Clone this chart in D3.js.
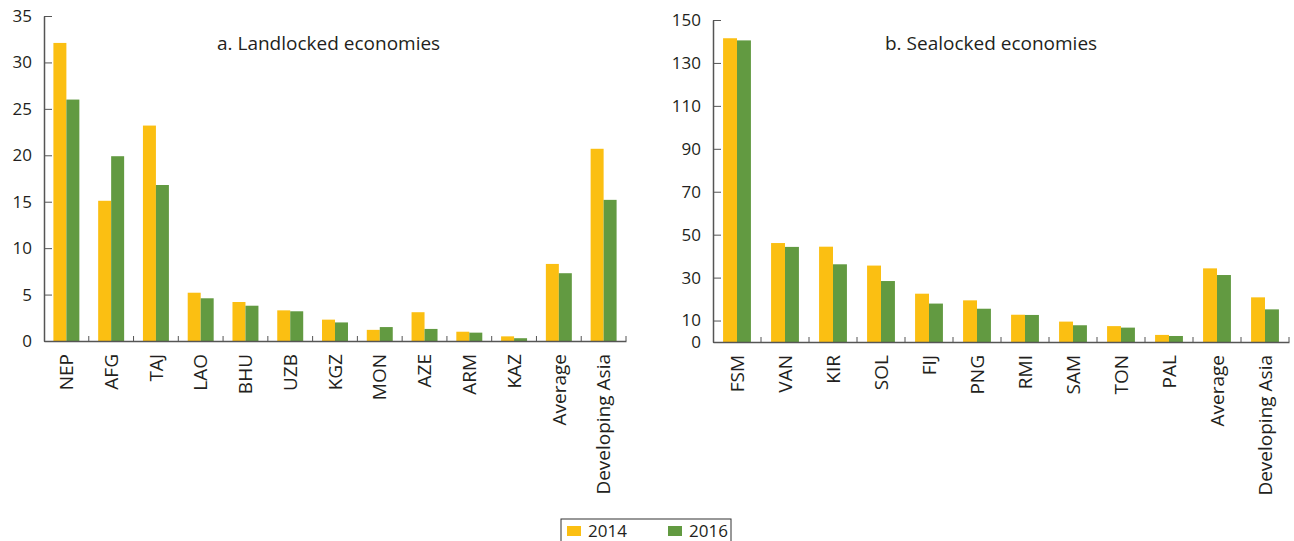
<!DOCTYPE html>
<html>
<head>
<meta charset="utf-8">
<script src="https://cdn.jsdelivr.net/npm/d3@7"></script>
<style>
  body { margin: 0; background: #fff; }
  text { font-family: "Open Sans", sans-serif; fill: #231f20; }
</style>
</head>
<body>
<svg id="chart" width="1294" height="541"></svg>
<script>
// data
const landCats = ["NEP", "AFG", "TAJ", "LAO", "BHU", "UZB", "KGZ", "MON", "AZE", "ARM", "KAZ", "Average", "Developing Asia"];
const land2014 = [32.1, 15.1, 23.2, 5.2, 4.2, 3.3, 2.3, 1.2, 3.1, 1.0, 0.5, 8.3, 20.7];
const land2016 = [26.0, 19.9, 16.8, 4.6, 3.8, 3.2, 2.0, 1.5, 1.3, 0.9, 0.3, 7.3, 15.2];

const seaCats = ["FSM", "VAN", "KIR", "SOL", "FIJ", "PNG", "RMI", "SAM", "TON", "PAL", "Average", "Developing Asia"];
const sea2014 = [141.5, 46.1, 44.4, 35.6, 22.5, 19.4, 12.7, 9.5, 7.4, 3.3, 34.3, 20.8];
const sea2016 = [140.5, 44.3, 36.2, 28.4, 17.9, 15.5, 12.6, 7.8, 6.7, 2.8, 31.2, 15.2];

const landTicks = [0, 5, 10, 15, 20, 25, 30, 35];
const seaTicks = [0, 10, 30, 50, 70, 90, 110, 130, 150];

const years = ["2014", "2016"];
const colors = {"2014": "#fbbf12", "2016": "#629a41"};

const svg = d3.select("#chart");

function drawPanel(cfg) {
  var g = svg.append("g");
  var x = d3.scaleBand().domain(cfg.cats).range([cfg.x0, cfg.x1]);
  var y = d3.scaleLinear().domain([0, cfg.max]).range([cfg.y0, cfg.y1]);
  var bw = x.bandwidth() * 0.29;

  var rows = cfg.cats.map(function(c, i) { return {cat: c, "2014": cfg.a[i], "2016": cfg.b[i]}; });

  // bars
  years.forEach(function(yr, k) {
    g.selectAll(".bar" + yr)
      .data(rows)
      .enter().append("rect")
      .attr("x", function(d) { return x(d.cat) + x.bandwidth() / 2 - bw + k * bw; })
      .attr("y", function(d) { return y(d[yr]); })
      .attr("width", bw)
      .attr("height", function(d) { return y(0) - y(d[yr]); })
      .attr("fill", colors[yr]);
  });

  // y axis, ticks pointing inward
  var yAx = g.append("g")
    .attr("transform", "translate(" + cfg.x0 + ",0)")
    .call(d3.axisLeft(y).tickValues(cfg.ticks).tickSize(-8).tickSizeOuter(0).tickPadding(12));
  yAx.selectAll("text").style("font-size", "17px");

  // x axis baseline + labels
  var xAx = g.append("g")
    .attr("transform", "translate(0," + cfg.y0 + ")")
    .call(d3.axisBottom(x).tickSize(0).tickSizeOuter(0));
  xAx.selectAll("text")
    .style("font-size", "19px")
    .attr("text-anchor", "end")
    .attr("transform", "rotate(-90)")
    .attr("x", -13)
    .attr("y", 0)
    .attr("dy", "0.35em");

  // boundary ticks between categories
  g.selectAll(".sep")
    .data(cfg.cats)
    .enter().append("line")
    .attr("x1", function(d) { return x(d) + x.bandwidth(); })
    .attr("x2", function(d) { return x(d) + x.bandwidth(); })
    .attr("y1", cfg.y0)
    .attr("y2", cfg.y0 - 5)
    .attr("stroke", "#555");

  g.selectAll(".domain").attr("stroke", "#555").attr("stroke-width", 1.5);
  g.selectAll(".tick line").attr("stroke", "#555");

  g.append("text")
    .attr("x", cfg.tx)
    .attr("y", 50)
    .style("font-size", "19px")
    .text(cfg.title);
}

drawPanel({cats: landCats, a: land2014, b: land2016, max: 35, ticks: landTicks,
  x0: 44, x1: 626, y0: 341, y1: 16, title: "a. Landlocked economies", tx: 217});

drawPanel({cats: seaCats, a: sea2014, b: sea2016, max: 150, ticks: seaTicks,
  x0: 713, x1: 1289, y0: 342, y1: 20, title: "b. Sealocked economies", tx: 885});

// legend
var leg = svg.append("g");
leg.append("rect")
  .attr("x", 561).attr("y", 519).attr("width", 170).attr("height", 40)
  .attr("fill", "none").attr("stroke", "#333").attr("stroke-width", 1);
years.forEach(function(yr, i) {
  var lx = 567 + i * 101;
  leg.append("rect").attr("x", lx).attr("y", 526).attr("width", 14).attr("height", 10).attr("fill", colors[yr]);
  leg.append("text").attr("x", lx + 21).attr("y", 537).style("font-size", "17px").text(yr);
});
</script>
</body>
</html>
